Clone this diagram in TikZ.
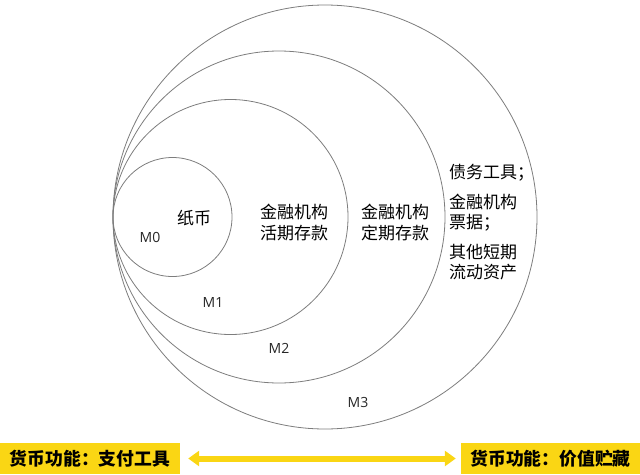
\documentclass[tikz,border=0pt]{standalone}
\usepackage{fontspec}
\setmainfont{Open Sans}
\newfontfamily\cjk{Noto Sans CJK SC}
\usetikzlibrary{arrows.meta}
\definecolor{fnyellow}{RGB}{250,214,20}
\definecolor{ringgray}{RGB}{125,125,125}

\begin{document}
\begin{tikzpicture}[x=1pt,y=-1pt,
  ring/.style={circle,draw=ringgray,line width=0.8pt,inner sep=0pt},
  zh/.style={font=\cjk\fontsize{17}{21}\selectfont,align=center,inner sep=0pt},
  mlabel/.style={font=\fontsize{14}{16}\selectfont,text=black!85,inner sep=0pt},
  fnbox/.style={fill=fnyellow,minimum height=31pt,inner sep=0pt,font=\cjk\bfseries\fontsize{17.8}{20}\selectfont}]
\useasboundingbox (0,0) rectangle (640,474);

\node[ring,minimum size=424pt] (m3) at (325,217) {};
\node[ring,minimum size=332pt] (m2) at (279,217) {};
\node[ring,minimum size=235pt] (m1) at (230.5,217) {};
\node[ring,minimum size=119pt] (m0) at (172.5,217) {};

\node[zh] (paper) at (194,218) {纸币};
\node[zh] (demand) at (294,222.5) {金融机构\\活期存款};
\node[zh] (time) at (395,222.5) {金融机构\\定期存款};
\node[zh,align=left,anchor=west,font=\cjk\fontsize{17}{20}\selectfont] (other) at (449,222)
  {债务工具；\\[10pt]金融机构\\票据；\\[10pt]其他短期\\流动资产};

\node[mlabel] (lm0) at (150,237) {M0};
\node[mlabel] (lm1) at (213,302) {M1};
\node[mlabel] (lm2) at (279,348) {M2};
\node[mlabel] (lm3) at (358,402) {M3};

\node[fnbox,minimum width=180pt] (pay) at (90,458.5) {货币功能：支付工具};
\node[fnbox,minimum width=179pt] (store) at (550.5,458.5) {货币功能：价值贮藏};

\draw[fnyellow,line width=6pt,{Triangle[width=15pt,length=11pt]}-{Triangle[width=15pt,length=11pt]},
  shorten <=8pt,shorten >=5pt] (pay) -- (store);
\end{tikzpicture}
\end{document}
